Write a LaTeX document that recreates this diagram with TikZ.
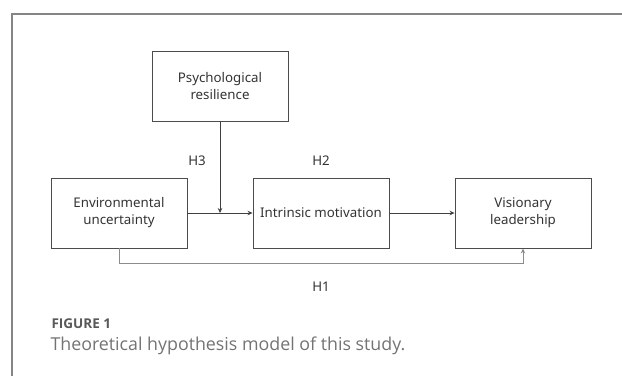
\documentclass[tikz,border=0pt]{standalone}
\usepackage{fontspec}
\setmainfont{Open Sans}
\newfontfamily\boxfont{Noto Sans}
\usetikzlibrary{arrows.meta}
\begin{document}
\begin{tikzpicture}[x=1pt,y=-1pt,
           box_style/.style={draw=black!70,line width=0.9pt,minimum width=136pt,minimum height=70pt,
             align=center,text=black!80,font=\boxfont\fontsize{13.3}{17}\selectfont},
           hyp_style/.style={text=black!80,font=\boxfont\fontsize{13.3}{15}\selectfont},
           edge_style/.style={draw=black!75,line width=0.7pt,-{Stealth[length=5pt,width=4.5pt]}},
           frame_style/.style={draw=black!48,line width=1.4pt}]
            \useasboundingbox (0,0) rectangle (622,376);
            \draw[frame_style] (12,376) -- (12,14) -- (622,14);
            \node[box_style] (psy) at (220, 86)  {Psychological\\resilience};
            \node[box_style] (env) at (119, 213) {Environmental\\uncertainty};
            \node[box_style] (intr) at (321, 213) {Intrinsic motivation};
            \node[box_style] (vis) at (523, 213) {Visionary\\leadership};
            \coordinate (mid) at (220, 213);
            \node[hyp_style] (h3) at (197, 161) {H3};
            \node[hyp_style] (h2) at (321, 161) {H2};
            \node[hyp_style] (h1) at (321, 287) {H1};
            \draw[edge_style]  (env) -- (intr);
            \draw[edge_style]  (intr) -- (vis);
            \draw[edge_style]  (psy) -- (mid);
            \draw[edge_style,draw=black!45]  (env.south) -- ++(0,15) -| (vis.south);
            \node[anchor=base west,text=black!65,font=\bfseries\fontsize{13.5}{16}\selectfont] (fig) at (48, 328) {FIGURE 1};
            \node[anchor=base west,text=black!55,font=\fontsize{17.8}{20}\selectfont] (cap) at (47, 350) {Theoretical hypothesis model of this study.};
        \end{tikzpicture}
\end{document}
